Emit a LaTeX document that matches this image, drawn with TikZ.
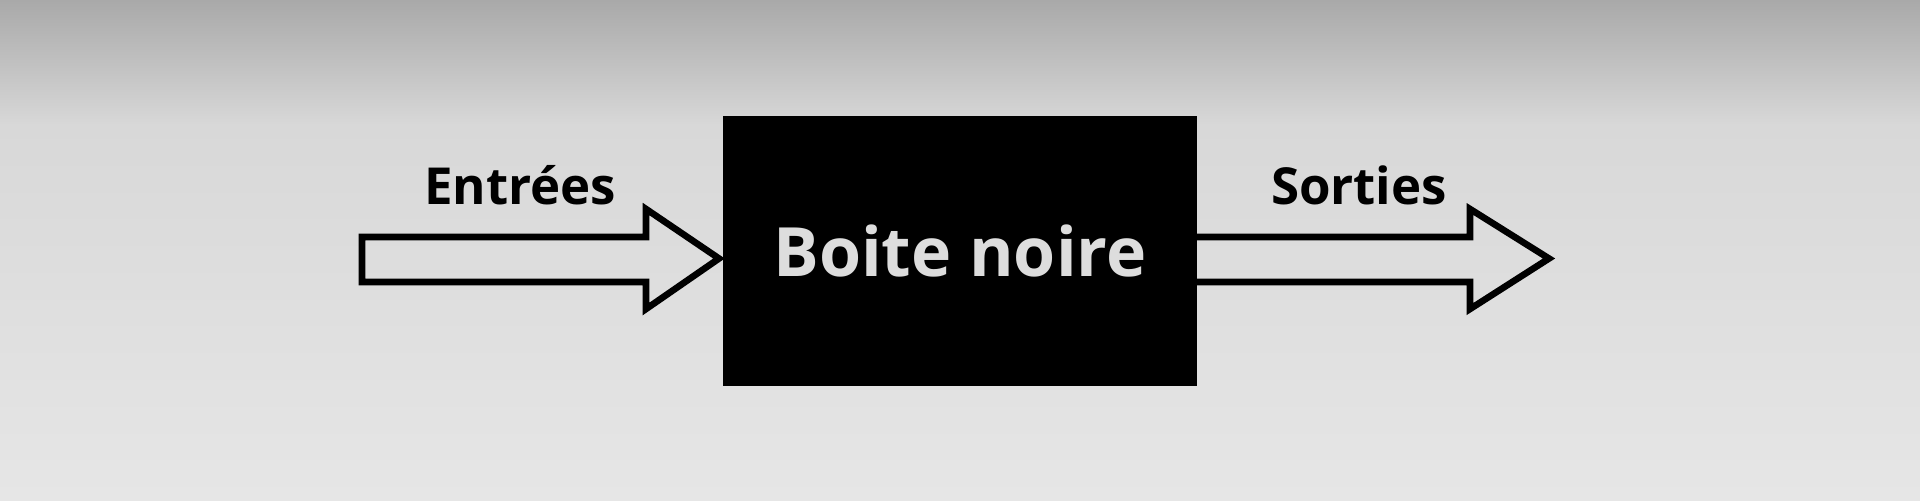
\documentclass[tikz,border=0pt]{standalone}
\usepackage{fontspec}
\setmainfont{Open Sans}
\usepackage{tikz}
\usetikzlibrary{calc}

\definecolor{fondhaut}{HTML}{A9A9A9}
\definecolor{fondmilieu}{HTML}{D8D8D8}
\definecolor{fondbas}{HTML}{E6E6E6}
\definecolor{textegris}{HTML}{DDDDDD}

\tikzset{
  fleche/.style = {draw = black, line width = 3.3pt, miter limit = 10},
  etiquette/.style = {font = \bfseries\fontsize{25.5}{30}\selectfont, anchor = base, inner sep = 0pt},
}

\begin{document}
\begin{tikzpicture}[x = 0.5pt, y = -0.5pt]
			% fond en degrade
			\useasboundingbox (0,0) rectangle (1920,500);
			\shade[top color = fondhaut, bottom color = fondmilieu] (0,0) rectangle (1920,125);
			\shade[top color = fondmilieu, bottom color = fondbas] (0,125) rectangle (1920,500);
			
			% fleches
			\draw[fleche] (362,237) -- (646,237) -- (646,209) -- (719,258.5)
				-- (646,309) -- (646,282) -- (362,282) -- cycle;
			\draw[fleche] (1190,237) -- (1470,237) -- (1470,209) -- (1549,258.5)
				-- (1470,309) -- (1470,282) -- (1190,282);
			
			% boite noire
			\node[fill = black, minimum width = 237pt, minimum height = 135pt, inner sep = 0pt,
				text = textegris, font = \bfseries\fontsize{34}{40}\selectfont] (boite) at (960,251) {Boite noire};
			
			\node[etiquette] (entrees) at (520,204) {Entrées};
			\node[etiquette] (sorties) at (1359,204) {Sorties};
		\end{tikzpicture}
\end{document}
